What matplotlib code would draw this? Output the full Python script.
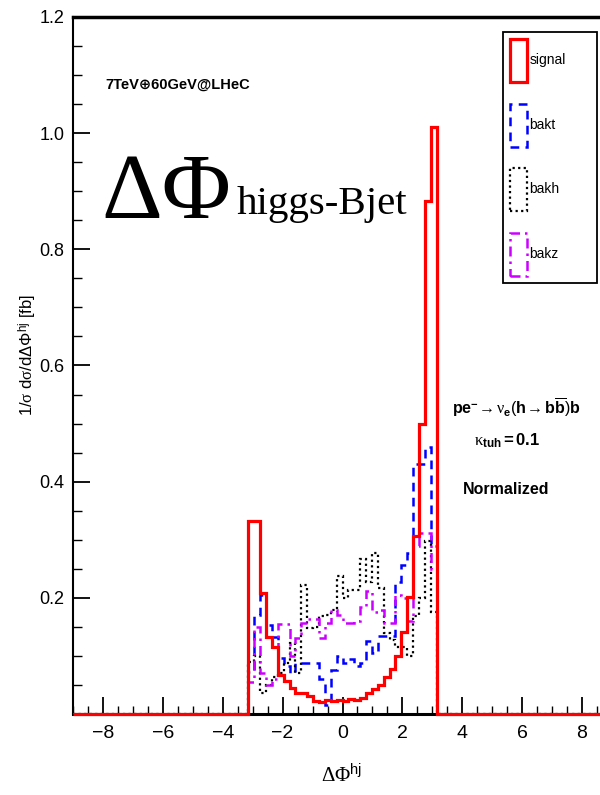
import numpy as np
import matplotlib
matplotlib.use("Agg")
import matplotlib.pyplot as plt
from matplotlib import font_manager
from matplotlib.patches import Patch
from matplotlib.ticker import MultipleLocator, FuncFormatter

# fonts: narrow sans like the ROOT picture, serif for the big label
names = set(f.name for f in font_manager.fontManager.ttflist)
sans = 'Liberation Sans Narrow' if 'Liberation Sans Narrow' in names else 'Liberation Sans'
serif = 'Liberation Serif'

plt.rcParams['font.family'] = [sans, 'DejaVu Sans']
plt.rcParams['mathtext.fontset'] = 'custom'
plt.rcParams['mathtext.rm'] = sans
plt.rcParams['mathtext.sf'] = sans
plt.rcParams['mathtext.it'] = serif
plt.rcParams['mathtext.cal'] = serif
plt.rcParams['mathtext.bf'] = sans + ':bold'
plt.rcParams['axes.unicode_minus'] = True

# 32 bins between -pi and pi, normalized distributions
nbins = 32
signal = [0.333, 0.333, 0.209, 0.133, 0.115, 0.067, 0.056, 0.044,
          0.037, 0.036, 0.031, 0.022, 0.021, 0.024, 0.023, 0.024,
          0.023, 0.025, 0.024, 0.027, 0.036, 0.043, 0.050, 0.064,
          0.077, 0.100, 0.142, 0.202, 0.307, 0.500, 0.883, 1.011]
bakt = [0.073, 0.171, 0.205, 0.153, 0.133, 0.096, 0.082, 0.070,
        0.088, 0.088, 0.088, 0.088, 0.060, 0.016, 0.075, 0.100,
        0.088, 0.095, 0.082, 0.088, 0.125, 0.105, 0.134, 0.134,
        0.134, 0.228, 0.257, 0.277, 0.430, 0.430, 0.460, 0.290]
bakh = [0.090, 0.100, 0.036, 0.050, 0.064, 0.070, 0.088, 0.122,
        0.070, 0.222, 0.148, 0.150, 0.168, 0.170, 0.179, 0.237,
        0.200, 0.214, 0.214, 0.266, 0.228, 0.277, 0.217, 0.139,
        0.128, 0.116, 0.116, 0.100, 0.168, 0.200, 0.297, 0.176]
bakz = [0.055, 0.150, 0.070, 0.050, 0.060, 0.155, 0.155, 0.100,
        0.130, 0.156, 0.163, 0.163, 0.131, 0.156, 0.179, 0.170,
        0.156, 0.156, 0.160, 0.185, 0.211, 0.175, 0.179, 0.156,
        0.156, 0.205, 0.200, 0.160, 0.290, 0.312, 0.312, 0.250]

labels = ['signal', 'bakt', 'bakh', 'bakz']
colores = ['#ff0000', '#0000ff', '#000000', '#cc00ff']
estilos = ['-', (0, (3.5, 2.5)), (0, (1, 1.5)), (0, (4, 2, 1, 2))]
anchos = [2.3, 1.8, 1.6, 1.8]

xmin, xmax = -9, 9
ymin, ymax = 0, 1.2

W, H = 600, 795
fig = plt.figure(figsize=(W / 100, H / 100), dpi=100)

def fx(px):
    return px / W

def fy(py):
    return 1 - py / H

# axes: x=-9 at px 73, x=9 at px 612 (cropped on the right)
ax = fig.add_axes([fx(73), fy(714), (612 - 73) / W, (714 - 17) / H])

# histogram edges, with empty bins out to the axis limits
edges = np.linspace(-np.pi, np.pi, nbins + 1)
edges = np.concatenate([[xmin], edges, [xmax]])

series = [signal, bakt, bakh, bakz]
for i in [3, 2, 1, 0]:
    vals = np.concatenate([[0.0], series[i], [0.0]])
    ax.stairs(vals, edges, color=colores[i], linestyle=estilos[i],
              linewidth=anchos[i], zorder=5 if i == 0 else 3 + i * 0.1,
              clip_on=(i != 0))

ax.set_xlim(xmin, xmax)
ax.set_ylim(ymin, ymax)

ax.xaxis.set_major_locator(MultipleLocator(2))
ax.xaxis.set_minor_locator(MultipleLocator(0.5))
ax.yaxis.set_major_locator(MultipleLocator(0.2))
ax.yaxis.set_minor_locator(MultipleLocator(0.05))
ax.yaxis.set_major_formatter(FuncFormatter(lambda v, p: '' if abs(v) < 1e-6 else '%.1f' % v))

ax.tick_params(which='both', direction='in', top=False, right=False, colors='black')
ax.tick_params(axis='y', which='major', length=12, width=1.3, labelsize=13, pad=6)
ax.tick_params(axis='y', which='minor', length=6.5, width=1.0)
ax.tick_params(axis='x', which='major', length=12, width=1.3, labelsize=14, pad=8)
ax.tick_params(axis='x', which='minor', length=6, width=1.0)

ax.spines['left'].set_linewidth(1.5)
ax.spines['bottom'].set_linewidth(2.2)
ax.spines['top'].set_linewidth(2.5)
ax.spines['right'].set_visible(False)

# axis titles
fig.text(fx(342), fy(782), r'$\mathcal{\Delta\Phi}^{\mathsf{hj}}$', fontsize=15,
         ha='center', va='baseline')
fig.text(fx(28), fy(355), r'1/$\sigma$ d$\sigma$/d$\Delta\Phi^{\mathsf{hj}}$ [fb]',
         fontsize=12, rotation=90, ha='center', va='center')

# labels inside the frame
fig.text(fx(105), fy(89), '7TeV\u229560GeV@LHeC', fontsize=10.5, fontweight='bold',
         family=[sans, 'DejaVu Sans'], ha='left', va='baseline')
fig.text(fx(101), fy(218), '\u0394\u03a6', fontsize=68, family=serif,
         ha='left', va='baseline')
fig.text(fx(237), fy(214), 'higgs-Bjet', fontsize=29.5, family=serif,
         ha='left', va='baseline')

fig.text(fx(452), fy(414),
         r'$\mathbf{pe}^{\mathbf{-}}\!\rightarrow\nu_{\mathbf{e}}(\mathbf{h}\!\rightarrow\mathbf{b}\overline{\mathbf{b}})\mathbf{b}$',
         fontsize=11.5, ha='left', va='baseline')
fig.text(fx(474), fy(446), r'$\kappa_{\mathbf{tuh}}\mathbf{=0.1}$', fontsize=12,
         ha='left', va='baseline')
fig.text(fx(463), fy(494), 'Normalized', fontsize=11.5, fontweight='bold',
         ha='left', va='baseline')

# legend with box symbols
handles = [Patch(facecolor='none', edgecolor=colores[i], linestyle=estilos[i],
                 linewidth=anchos[i]) for i in range(4)]
leg = fig.legend(handles, labels, loc='upper left',
                 bbox_to_anchor=(fx(503), fy(280), 94 / W, 248 / H),
                 mode='expand', borderaxespad=0, fontsize=10,
                 handlelength=1.2, handleheight=4.4, labelspacing=1.55,
                 handletextpad=0.2, borderpad=0.5, fancybox=False,
                 framealpha=1, edgecolor='black')
leg.get_frame().set_linewidth(1.3)

fig.savefig('out.png', dpi=100)
